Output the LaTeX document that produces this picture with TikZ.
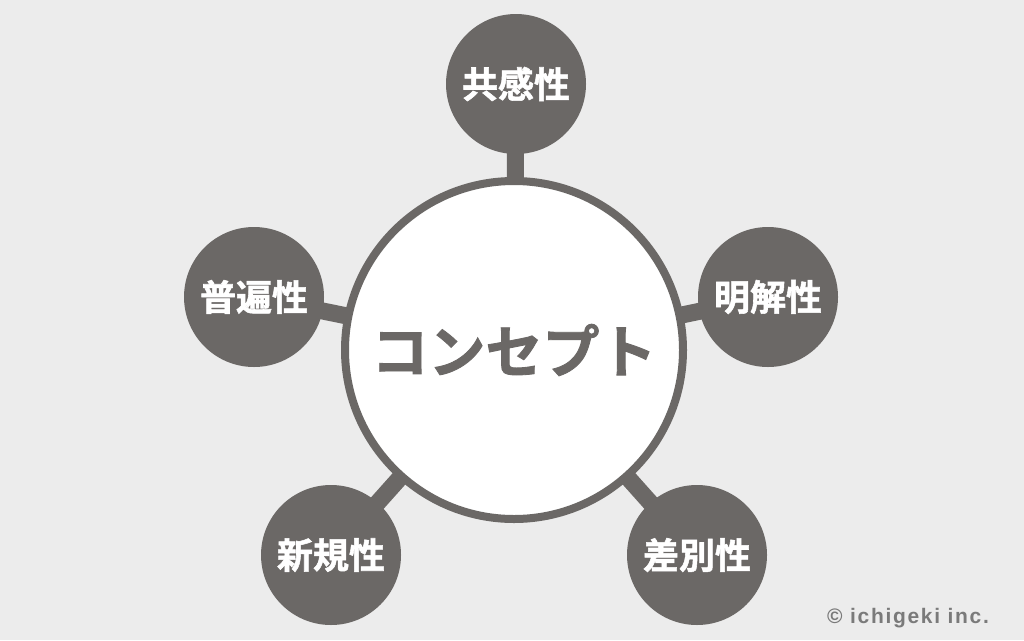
\documentclass[tikz,border=0pt]{standalone}
\usepackage{fontspec}
\usetikzlibrary{backgrounds}
\setmainfont{Liberation Sans}
\newfontfamily\jpfont{Noto Sans CJK JP}[BoldFont={* Bold},BoldFeatures={FakeBold=1.5}]
\newfontfamily\crfont{Liberation Sans}[LetterSpace=8]
\definecolor{bg}{HTML}{ECECEC}
\definecolor{dk}{HTML}{6B6866}
\definecolor{cp}{HTML}{7A7A7A}
\begin{document}
\begin{tikzpicture}[x=1pt,y=-1pt,
  sat/.style={circle,fill=dk,minimum size=140pt,inner sep=0pt,text=white,font=\jpfont\bfseries\fontsize{36}{36}\selectfont},
  hub/.style={circle,draw=dk,line width=8pt,fill=white,minimum size=338pt,inner sep=0pt,text=dk,font=\jpfont\bfseries\fontsize{57}{57}\selectfont},
  link/.style={draw=dk,line width=17pt}]
\useasboundingbox (0,0) rectangle (1024,640);
\node[sat] (a) at (516,84) {共感性};
\node[sat] (b) at (768,297) {明解性};
\node[sat] (d) at (697,555) {差別性};
\node[sat] (e) at (331,555) {新規性};
\node[sat] (f) at (254,297) {普遍性};
\node[hub] (h) at (514,350) {コンセプト};
\node[text=cp,font=\crfont\bfseries\fontsize{21}{21}\selectfont,anchor=center] (cr) at (908,618) {© ichigeki inc.};
\begin{scope}[on background layer]
\fill[bg] (0,0) rectangle (1024,640);
\foreach \s in {a,b,d,e,f} \path[link] (h.center) -- (\s.center);
\end{scope}
\end{tikzpicture}
\end{document}
